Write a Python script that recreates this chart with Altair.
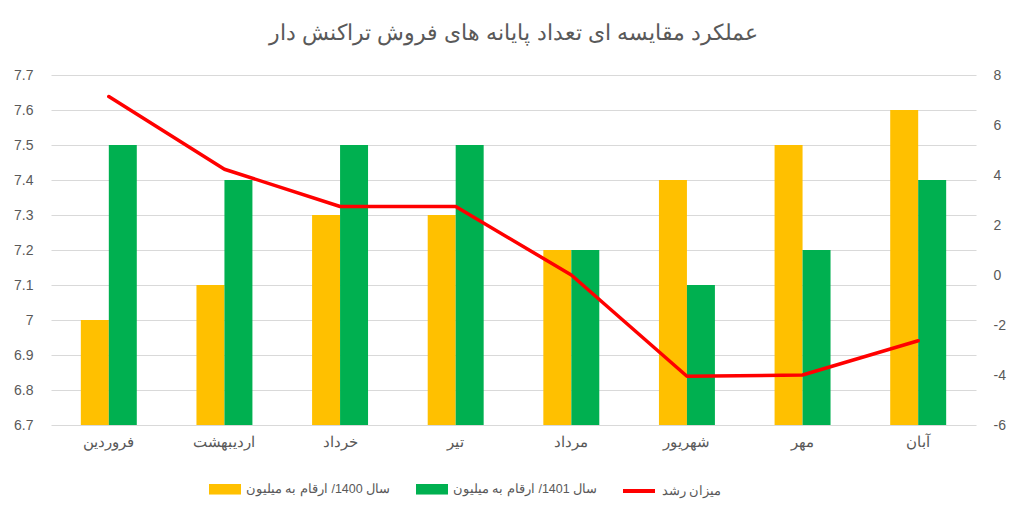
import altair as alt
import pandas as pd

months = ["فروردین", "اردیبهشت", "خرداد", "تیر", "مرداد", "شهریور", "مهر", "آبان"]
y1400 = [7.0, 7.1, 7.3, 7.3, 7.2, 7.4, 7.5, 7.6]
y1401 = [7.5, 7.4, 7.5, 7.5, 7.2, 7.1, 7.2, 7.4]
growth = [7.14, 4.23, 2.74, 2.74, 0.0, -4.05, -4.0, -2.63]

s1400 = "سال 1400/ ارقام به میلیون"
s1401 = "سال 1401/ ارقام به میلیون"
sg = "میزان رشد"
title = "عملکرد مقایسه ای تعداد پایانه های فروش تراکنش دار"

left_ticks = [6.7, 6.8, 6.9, 7.0, 7.1, 7.2, 7.3, 7.4, 7.5, 7.6, 7.7]
right_ticks = [-6, -4, -2, 0, 2, 4, 6, 8]

bars_df = pd.DataFrame(
    [{"month": m, "series": s1400, "value": v} for m, v in zip(months, y1400)]
    + [{"month": m, "series": s1401, "value": v} for m, v in zip(months, y1401)]
)
line_df = pd.DataFrame({"month": months, "growth": growth, "series": [sg] * len(months)})

FONT = "Liberation Sans"
GRAY = "#595959"

x_enc = alt.X(
    "month:N",
    sort=months,
    scale=alt.Scale(paddingInner=0.516, paddingOuter=0.258),
    axis=alt.Axis(title=None, labelAngle=0, ticks=False, domain=False,
                  labelFontSize=15, labelColor=GRAY, labelPadding=9, grid=False),
)

bars = alt.Chart(bars_df).mark_bar().encode(
    x=x_enc,
    xOffset=alt.XOffset("series:N", sort=[s1400, s1401]),
    y=alt.Y("value:Q",
            scale=alt.Scale(domain=[6.7, 7.7], zero=False, nice=False),
            axis=alt.Axis(title=None, values=left_ticks, format="~g", grid=True,
                          gridColor="#d9d9d9", domain=False, ticks=False, tickSize=0,
                          labelFontSize=14, labelColor=GRAY, labelPadding=18)),
    y2=alt.datum(6.7),
    color=alt.Color("series:N",
                    scale=alt.Scale(domain=[s1400, s1401], range=["#FFC000", "#00B050"]),
                    legend=alt.Legend(title=None, orient="none", direction="horizontal",
                                      legendX=158, legendY=398,
                                      symbolType="M-1,-0.33L1,-0.33L1,0.33L-1,0.33Z",
                                      symbolSize=1024, labelFontSize=12.5, labelColor=GRAY,
                                      columnPadding=25, labelOffset=5, symbolStrokeWidth=0)),
)

line = alt.Chart(line_df).mark_line(strokeWidth=3.5, strokeCap="round", strokeJoin="round").encode(
    x=x_enc,
    y=alt.Y("growth:Q",
            scale=alt.Scale(domain=[-6, 8], nice=False, zero=False),
            axis=alt.Axis(title=None, orient="right", values=right_ticks, grid=False,
                          domain=False, ticks=False, tickSize=0,
                          labelExpr="'' + datum.value",
                          labelFontSize=14, labelColor=GRAY, labelPadding=17)),
    stroke=alt.Stroke("series:N",
                      scale=alt.Scale(domain=[sg], range=["#FF0000"]),
                      legend=alt.Legend(title=None, orient="none", direction="horizontal",
                                        legendX=570, legendY=398,
                                        symbolType="M-1,0L1,0", symbolSize=1024,
                                        symbolStrokeWidth=4, labelFontSize=12.5,
                                        labelColor=GRAY, labelOffset=5)),
)

chart = (
    alt.layer(bars, line)
    .resolve_scale(y="independent", color="independent", stroke="independent")
    .properties(
        width=925,
        height=350,
        title=alt.TitleParams(title, fontSize=22, fontWeight="normal", color=GRAY,
                              font=FONT, anchor="middle", offset=23),
        padding={"left": 5, "right": 5, "top": 14, "bottom": 5},
    )
    .configure(font=FONT)
    .configure_view(stroke=None)
)

chart.save("out.html", embed_options={"renderer": "svg", "actions": False})
